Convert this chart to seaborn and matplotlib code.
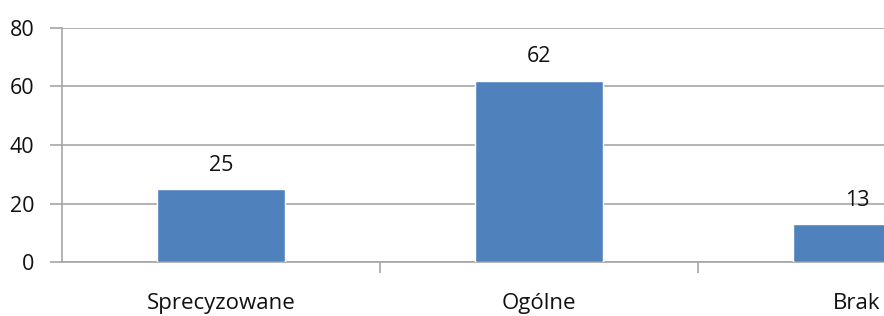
import matplotlib
matplotlib.use('Agg')
import matplotlib.pyplot as plt
import seaborn as sns
import pandas as pd

categories = ['Sprecyzowane', 'Ogólne', 'Brak']
values = [25, 62, 13]
y_ticks = [0, 20, 40, 60, 80]

df = pd.DataFrame({'kategoria': categories, 'wartosc': values})

sns.set_theme(style='white')
plt.rcParams['font.family'] = ['Open Sans', 'DejaVu Sans']

fig = plt.figure(figsize=(8.84, 3.16), dpi=100)
ax = fig.add_axes([62 / 884, 54 / 316, 954 / 884, 234 / 316])

sns.barplot(data=df, x='kategoria', y='wartosc', color='#4f81bd', saturation=1,
            width=0.4, ax=ax, zorder=3)

for i, v in enumerate(values):
    ax.text(i, v + 4.5, str(v), ha='center', va='bottom', fontsize=15.5, color='#111111')

ax.set_xlim(-0.5, 2.5)
ax.set_ylim(0, 80)
ax.set_yticks(y_ticks)
ax.yaxis.grid(True, color='#a6a6a6', linewidth=1.2, zorder=0)
ax.set_axisbelow(True)
ax.set_xlabel('')
ax.set_ylabel('')

ax.set_xticks([0.5, 1.5], minor=True)
ax.tick_params(axis='x', which='major', length=0, pad=22, labelsize=16, labelcolor='#111111')
ax.tick_params(axis='x', which='minor', bottom=True, length=8, width=1.2, color='#a6a6a6',
               direction='out')
ax.tick_params(axis='y', length=9, width=1.2, color='#a6a6a6', pad=11, labelsize=15.5,
               labelcolor='#111111', left=True)

for s in ['top', 'right']:
    ax.spines[s].set_visible(False)
for s in ['left', 'bottom']:
    ax.spines[s].set_color('#a6a6a6')
    ax.spines[s].set_linewidth(1.2)

fig.savefig('out.png', dpi=100)
